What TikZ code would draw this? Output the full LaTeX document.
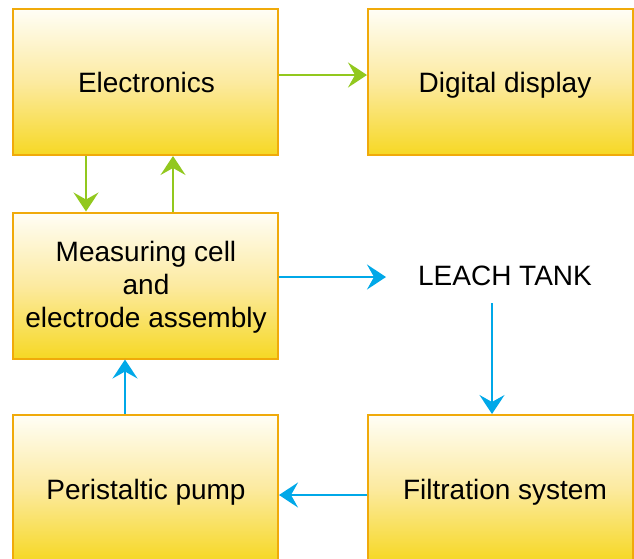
\documentclass[tikz,border=0pt]{standalone}
\usepackage{fontspec}
\setmainfont{Liberation Sans}
\usetikzlibrary{arrows.meta}
\definecolor{boxborder}{RGB}{240,170,10}
\definecolor{boxtop}{RGB}{255,254,246}
\definecolor{boxmid}{RGB}{252,234,160}
\definecolor{boxbot}{RGB}{246,216,36}
\definecolor{grn}{RGB}{146,200,30}
\definecolor{blu}{RGB}{0,168,232}
\tikzset{
  blockbox/.style={draw=boxborder, line width=2pt, top color=boxtop, bottom color=boxbot, middle color=boxmid,
    minimum width=265pt, minimum height=146pt, inner sep=0pt},
  plain/.style={align=center, font=\fontsize{28}{33}\selectfont, inner sep=0pt},
  garrow/.style={draw=grn, line width=2pt, -{Stealth[length=19pt,width=25pt,inset=7pt]}},
  barrow/.style={draw=blu, line width=2pt, -{Stealth[length=19pt,width=25pt,inset=7pt]}}
}
\begin{document}
\begin{tikzpicture}[x=1pt,y=-1pt]
\useasboundingbox (0,0) rectangle (634,558);
\node[blockbox] (elec) at (145.5,82) {};
\node[blockbox] (disp) at (500.5,82) {};
\node[blockbox] (meas) at (145.5,285.5) {};
\node[blockbox] (pump) at (145.5,488) {};
\node[blockbox] (filt) at (500.5,488) {};
\node[plain, anchor=base] (elect) at (146.5,92.5) {Electronics};
\node[plain, anchor=base] (dispt) at (505,92.5) {Digital display};
\node[plain] (meast) at (146,287) {Measuring cell\\and\\electrode assembly};
\node[plain, anchor=base] (pumpt) at (146,499) {Peristaltic pump};
\node[plain, anchor=base] (filtt) at (505,499) {Filtration system};
\node[plain, anchor=base] (leach) at (505,285) {LEACH TANK};
\coordinate (leachin) at (386,277);
\coordinate (leachout) at (492,303);
\draw[garrow] (elec.east |- 0,75) -- (disp.west |- 0,75);
\draw[garrow] (elec.south -| 86,0) -- (meas.north -| 86,0);
\draw[garrow] (meas.north -| 173,0) -- (elec.south -| 173,0);
\draw[barrow] (meas.east |- leachin) -- (leachin);
\draw[barrow] (leachout) -- (filt.north -| leachout);
\draw[barrow] (filt.west |- 0,495) -- (pump.east |- 0,495);
\draw[barrow] (pump.north -| 125,0) -- (meas.south -| 125,0);
\end{tikzpicture}
\end{document}
